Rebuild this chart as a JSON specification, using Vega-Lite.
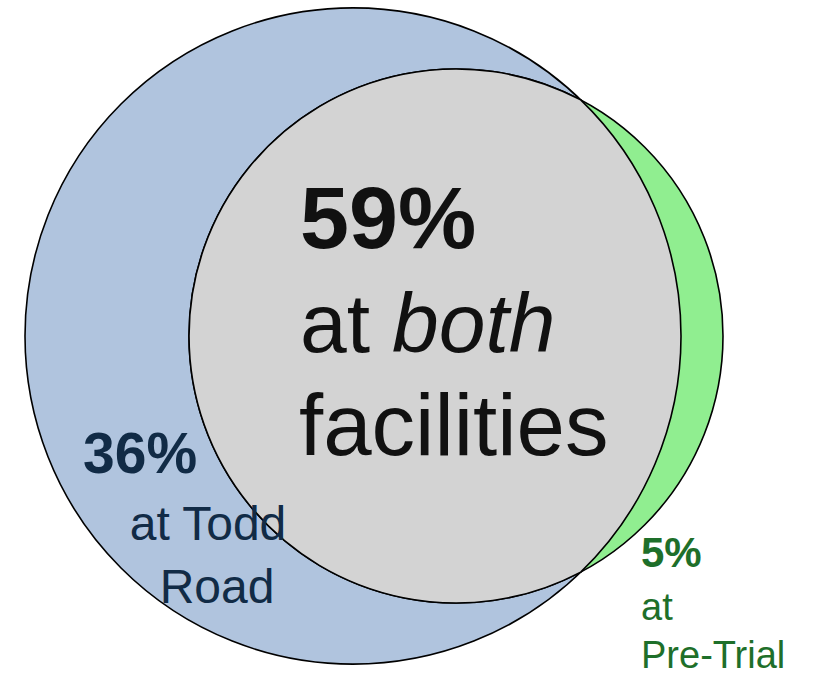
{
  "$schema": "https://vega.github.io/schema/vega-lite/v6.json",
  "width": 815,
  "height": 675,
  "padding": 0,
  "autosize": {"type": "none"},
  "background": "white",
  "config": {"view": {"stroke": null}},
  "datasets": {
    "sets": [
      {"set": "Todd Road", "cx": 353, "cy": 336},
      {"set": "Pre-Trial", "cx": 456, "cy": 336}
    ],
    "overlap": [
      {"set": "both", "cx": 456, "cy": 336}
    ],
    "labels": [
      {"region": "both", "line": "pct", "text": "59%", "x": 300, "y": 248},
      {"region": "both", "line": "at", "text": "at", "x": 300, "y": 352},
      {"region": "both", "line": "italic", "text": "both", "x": 392, "y": 352},
      {"region": "both", "line": "desc", "text": "facilities", "x": 299, "y": 455},
      {"region": "Todd Road", "line": "pct", "text": "36%", "x": 83, "y": 473},
      {"region": "Todd Road", "line": "desc", "text": "at Todd", "x": 208, "y": 540},
      {"region": "Todd Road", "line": "desc", "text": "Road", "x": 217, "y": 603},
      {"region": "Pre-Trial", "line": "pct", "text": "5%", "x": 641, "y": 567},
      {"region": "Pre-Trial", "line": "desc", "text": "at", "x": 641, "y": 620},
      {"region": "Pre-Trial", "line": "desc", "text": "Pre-Trial", "x": 641, "y": 668}
    ]
  },
  "encoding": {
    "x": {"field": "cx", "type": "quantitative", "scale": {"domain": [0, 815], "nice": false, "zero": false}, "axis": null},
    "y": {"field": "cy", "type": "quantitative", "scale": {"domain": [0, 675], "reverse": true, "nice": false, "zero": false}, "axis": null}
  },
  "layer": [
    {
      "data": {"name": "sets"},
      "transform": [{"filter": "datum.set === 'Todd Road'"}],
      "mark": {"type": "point", "shape": "circle", "filled": true, "fill": "#b0c4de", "stroke": "#000000", "strokeWidth": 1.6, "opacity": 1, "fillOpacity": 1, "size": 430336}
    },
    {
      "data": {"name": "sets"},
      "transform": [{"filter": "datum.set === 'Pre-Trial'"}],
      "mark": {"type": "point", "shape": "circle", "filled": true, "fill": "#90ee90", "stroke": "#000000", "strokeWidth": 1.6, "opacity": 1, "fillOpacity": 1, "size": 285156}
    },
    {
      "data": {"name": "overlap"},
      "mark": {"type": "point", "shape": "M1.247,-2.361 A2.67,2.67 0 1 0 1.247,2.361 A3.28,3.28 0 0 0 1.247,-2.361 Z", "filled": true, "fill": "#d3d3d3", "stroke": "#000000", "strokeWidth": 1.6, "opacity": 1, "fillOpacity": 1, "size": 40000}
    },
    {
      "data": {"name": "labels"},
      "transform": [{"filter": "datum.region === 'both' && datum.line === 'pct'"}],
      "mark": {"type": "text", "align": "left", "baseline": "alphabetic", "font": "Liberation Sans", "fontWeight": "bold", "fontSize": 88, "color": "#111111"},
      "encoding": {"x": {"field": "x", "type": "quantitative"}, "y": {"field": "y", "type": "quantitative"}, "text": {"field": "text"}}
    },
    {
      "data": {"name": "labels"},
      "transform": [{"filter": "datum.region === 'both' && datum.line === 'at'"}],
      "mark": {"type": "text", "align": "left", "baseline": "alphabetic", "font": "Liberation Sans", "fontSize": 84, "color": "#111111"},
      "encoding": {"x": {"field": "x", "type": "quantitative"}, "y": {"field": "y", "type": "quantitative"}, "text": {"field": "text"}}
    },
    {
      "data": {"name": "labels"},
      "transform": [{"filter": "datum.region === 'both' && datum.line === 'desc'"}],
      "mark": {"type": "text", "align": "left", "baseline": "alphabetic", "font": "Liberation Sans", "fontSize": 87, "color": "#111111"},
      "encoding": {"x": {"field": "x", "type": "quantitative"}, "y": {"field": "y", "type": "quantitative"}, "text": {"field": "text"}}
    },
    {
      "data": {"name": "labels"},
      "transform": [{"filter": "datum.region === 'both' && datum.line === 'italic'"}],
      "mark": {"type": "text", "align": "left", "baseline": "alphabetic", "font": "Liberation Sans", "fontStyle": "italic", "fontSize": 84, "color": "#111111"},
      "encoding": {"x": {"field": "x", "type": "quantitative"}, "y": {"field": "y", "type": "quantitative"}, "text": {"field": "text"}}
    },
    {
      "data": {"name": "labels"},
      "transform": [{"filter": "datum.region === 'Todd Road' && datum.line === 'pct'"}],
      "mark": {"type": "text", "align": "left", "baseline": "alphabetic", "font": "Liberation Sans", "fontWeight": "bold", "fontSize": 57, "color": "#112b46"},
      "encoding": {"x": {"field": "x", "type": "quantitative"}, "y": {"field": "y", "type": "quantitative"}, "text": {"field": "text"}}
    },
    {
      "data": {"name": "labels"},
      "transform": [{"filter": "datum.region === 'Todd Road' && datum.line === 'desc'"}],
      "mark": {"type": "text", "align": "center", "baseline": "alphabetic", "font": "Liberation Sans", "fontSize": 48, "color": "#112b46"},
      "encoding": {"x": {"field": "x", "type": "quantitative"}, "y": {"field": "y", "type": "quantitative"}, "text": {"field": "text"}}
    },
    {
      "data": {"name": "labels"},
      "transform": [{"filter": "datum.region === 'Pre-Trial' && datum.line === 'pct'"}],
      "mark": {"type": "text", "align": "left", "baseline": "alphabetic", "font": "Liberation Sans", "fontWeight": "bold", "fontSize": 42, "color": "#1e6f2a"},
      "encoding": {"x": {"field": "x", "type": "quantitative"}, "y": {"field": "y", "type": "quantitative"}, "text": {"field": "text"}}
    },
    {
      "data": {"name": "labels"},
      "transform": [{"filter": "datum.region === 'Pre-Trial' && datum.line === 'desc'"}],
      "mark": {"type": "text", "align": "left", "baseline": "alphabetic", "font": "Liberation Sans", "fontSize": 38, "color": "#1e6f2a"},
      "encoding": {"x": {"field": "x", "type": "quantitative"}, "y": {"field": "y", "type": "quantitative"}, "text": {"field": "text"}}
    }
  ]
}
